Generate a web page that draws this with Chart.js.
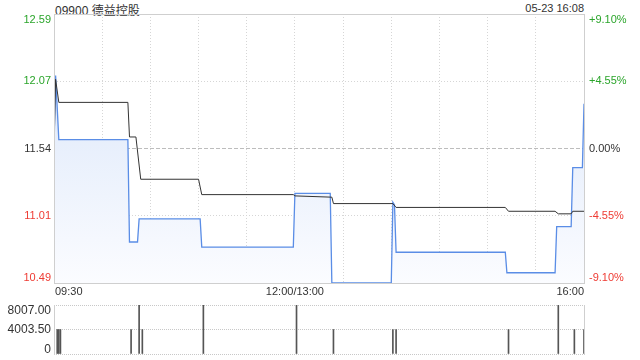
<!DOCTYPE html>
<html>
<head>
<meta charset="utf-8">
<script src="https://cdn.jsdelivr.net/npm/chart.js@4.4.1/dist/chart.umd.min.js"></script>
<style>
    body { margin: 0; background: #fff; width: 640px; height: 360px; overflow: hidden; position: relative;
           font-family: "Liberation Sans", Arial, "Noto Sans CJK SC", sans-serif; }
    #title { position: absolute; left: 55px; top: 1px; font-size: 12px; color: #333; }
    #stamp { position: absolute; right: 56px; top: 2px; font-size: 11px; color: #333; }
    #priceWrap { position: absolute; left: 0; top: 0; width: 640px; height: 300px; }
    #volWrap { position: absolute; left: 0; top: 300px; width: 640px; height: 60px; }
</style>
</head>
<body>
<div id="title"></div>
<div id="stamp"></div>
<div id="priceWrap"><canvas id="priceChart" width="640" height="300"></canvas></div>
<div id="volWrap"><canvas id="volChart" width="640" height="60"></canvas></div>
<script>
const stockTitle = '09900 德益控股';
const stampText = '05-23 16:08';

const priceMin = 10.49;
const priceMax = 12.59;
const priceTickLabels = ['10.49', '11.01', '11.54', '12.07', '12.59'];
const pctTickLabels = ['-9.10%', '-4.55%', '0.00%', '+4.55%', '+9.10%'];

// minutes since 09:30, lunch break removed (330 = 16:00)
const timeLabels = ['09:30', '12:00/13:00', '16:00'];
const timeLabelMinutes = [0, 150, 330];

const priceMinutes = [0, 1, 3, 46, 47, 52, 53, 91, 92, 149, 150, 172, 173, 210, 211, 212, 213, 281, 282, 312, 313, 322, 323, 329, 330];
const priceValues = [11.54, 12.11, 11.61, 11.61, 10.81, 10.81, 10.99, 10.99, 10.77, 10.77, 11.19, 11.19, 10.49, 10.49, 11.12, 11.10, 10.73, 10.73, 10.57, 10.57, 10.93, 10.93, 11.39, 11.39, 11.89];

const avgMinutes = [0, 1, 3, 46, 47, 51, 54, 90, 92, 149, 150, 173, 174, 211, 213, 281, 283, 312, 314, 322, 323, 330];
const avgValues = [11.54, 12.08, 11.90, 11.90, 11.63, 11.63, 11.30, 11.30, 11.18, 11.18, 11.17, 11.16, 11.11, 11.11, 11.08, 11.08, 11.05, 11.05, 11.03, 11.03, 11.05, 11.05];

const volMinutes = [2, 3, 4, 48, 53, 55, 93, 151, 174, 211, 213, 283, 314, 324, 330];
const volValues = [4000, 4000, 4000, 4000, 8000, 4000, 8000, 8000, 4000, 4000, 4000, 4000, 8000, 4000, 4000];
const volMax = 8007;
const volTickLabels = ['0', '4003.50', '8007.00'];

const upColor = '#2ba52b';
const downColor = '#ee3b33';
const flatColor = '#333';

document.getElementById('title').textContent = stockTitle;
document.getElementById('stamp').textContent = stampText;

function toPoints(xs, ys) {
    return xs.map((x, i) => ({ x: x, y: ys[i] }));
}

function labelColor(i, n) {
    const mid = (n - 1) / 2;
    if (i > mid) return upColor;
    if (i < mid) return downColor;
    return flatColor;
}

function drawText(ctx, text, x, y, align, color, size) {
    ctx.save();
    ctx.font = size + 'px "Liberation Sans", Arial, sans-serif';
    ctx.fillStyle = color;
    ctx.textAlign = align;
    ctx.textBaseline = 'middle';
    ctx.fillText(text, x, y);
    ctx.restore();
}

const priceFrame = {
    id: 'priceFrame',
    beforeDatasetsDraw(chart) {
        const a = chart.chartArea;
        drawText(chart.ctx, 'sina.com', a.right - 10, a.bottom - 4, 'right', '#d0d0d0', 11);
    },
    afterDraw(chart) {
        const ctx = chart.ctx;
        const a = chart.chartArea;
        const y = chart.scales.y;
        const x = chart.scales.x;
        ctx.save();
        ctx.strokeStyle = '#cfcfcf';
        ctx.lineWidth = 1;
        ctx.strokeRect(a.left + 0.5, a.top + 0.5, a.right - a.left, a.bottom - a.top);
        ctx.restore();

        const n = priceTickLabels.length;
        for (let i = 0; i < n; i++) {
            const v = priceMin + i * (priceMax - priceMin) / (n - 1);
            let py = y.getPixelForValue(v);
            py = Math.min(Math.max(py, a.top + 6), a.bottom - 5);
            drawText(ctx, priceTickLabels[i], a.left - 3, py, 'right', labelColor(i, n), 11);
            drawText(ctx, pctTickLabels[i], a.right + 5, py, 'left', labelColor(i, n), 11);
        }

        const aligns = ['left', 'center', 'right'];
        for (let i = 0; i < timeLabels.length; i++) {
            let px = x.getPixelForValue(timeLabelMinutes[i]);
            if (aligns[i] === 'left') px += 1;
            drawText(ctx, timeLabels[i], px, a.bottom + 9, aligns[i], flatColor, 11);
        }
    }
};

const volFrame = {
    id: 'volFrame',
    afterDraw(chart) {
        const ctx = chart.ctx;
        const a = chart.chartArea;
        const y = chart.scales.y;
        ctx.save();
        ctx.strokeStyle = '#cfcfcf';
        ctx.lineWidth = 1;
        ctx.beginPath();
        ctx.moveTo(a.left + 0.5, a.top);
        ctx.lineTo(a.left + 0.5, a.bottom + 1);
        ctx.moveTo(a.right + 0.5, a.top);
        ctx.lineTo(a.right + 0.5, a.bottom + 1);
        ctx.stroke();
        ctx.restore();

        const n = volTickLabels.length;
        for (let i = 0; i < n; i++) {
            let py = y.getPixelForValue(i * volMax / (n - 1));
            py = Math.min(Math.max(py, a.top + 6), a.bottom - 4);
            drawText(ctx, volTickLabels[i], a.left - 3, py, 'right', flatColor, 12);
        }
    }
};

function fillGradient(context) {
    const a = context.chart.chartArea;
    if (!a) return 'rgba(0,0,0,0)';
    const g = context.chart.ctx.createLinearGradient(0, a.top, 0, a.bottom);
    g.addColorStop(0, '#d6e3f9');
    g.addColorStop(1, '#fbfcff');
    return g;
}

new Chart(document.getElementById('priceChart'), {
    type: 'line',
    data: {
        datasets: [{
            data: toPoints(avgMinutes, avgValues),
            borderColor: '#333',
            borderWidth: 1,
            pointRadius: 0,
            fill: false,
            order: 0
        }, {
            data: toPoints(priceMinutes, priceValues),
            borderColor: '#5a8de6',
            borderWidth: 1.3,
            pointRadius: 0,
            fill: 'start',
            backgroundColor: fillGradient,
            order: 1
        }]
    },
    options: {
        responsive: false,
        animation: false,
        events: [],
        layout: { padding: { top: 14, right: 56 } },
        plugins: { legend: { display: false }, tooltip: { enabled: false } },
        scales: {
            x: {
                type: 'linear',
                min: 0,
                max: 330,
                offset: false,
                afterBuildTicks: s => { s.ticks = []; for (let m = 0; m <= 330; m += 30) s.ticks.push({ value: m }); },
                ticks: { display: false },
                grid: { color: '#d6d6d6', drawTicks: false },
                border: { display: false, dash: [1, 2] },
                afterFit: s => { s.height = 17; }
            },
            y: {
                min: priceMin,
                max: priceMax,
                afterBuildTicks: s => {
                    s.ticks = priceTickLabels.map((_, i) => ({ value: priceMin + i * (priceMax - priceMin) / (priceTickLabels.length - 1) }));
                },
                ticks: { display: false },
                grid: { color: ctx => ctx.index === 2 ? '#bdbdbd' : '#d6d6d6', drawTicks: false },
                border: { display: false, dash: ctx => ctx.index === 2 ? [4, 2] : [1, 2] },
                afterFit: s => { s.width = 54; }
            }
        }
    },
    plugins: [priceFrame]
});

new Chart(document.getElementById('volChart'), {
    type: 'bar',
    data: {
        datasets: [{
            data: toPoints(volMinutes, volValues),
            backgroundColor: '#555',
            barThickness: 1
        }]
    },
    options: {
        responsive: false,
        animation: false,
        events: [],
        layout: { padding: { top: 5, right: 56, bottom: 6 } },
        plugins: { legend: { display: false }, tooltip: { enabled: false } },
        scales: {
            x: { type: 'linear', min: 0, max: 330, offset: false, display: false },
            y: {
                min: 0,
                max: volMax,
                afterBuildTicks: s => {
                    s.ticks = volTickLabels.map((_, i) => ({ value: i * volMax / (volTickLabels.length - 1) }));
                },
                ticks: { display: false },
                grid: { color: '#c8c8c8', drawTicks: false },
                border: { display: false, dash: [1, 1] },
                afterFit: s => { s.width = 54; }
            }
        }
    },
    plugins: [volFrame]
});
</script>
</body>
</html>
